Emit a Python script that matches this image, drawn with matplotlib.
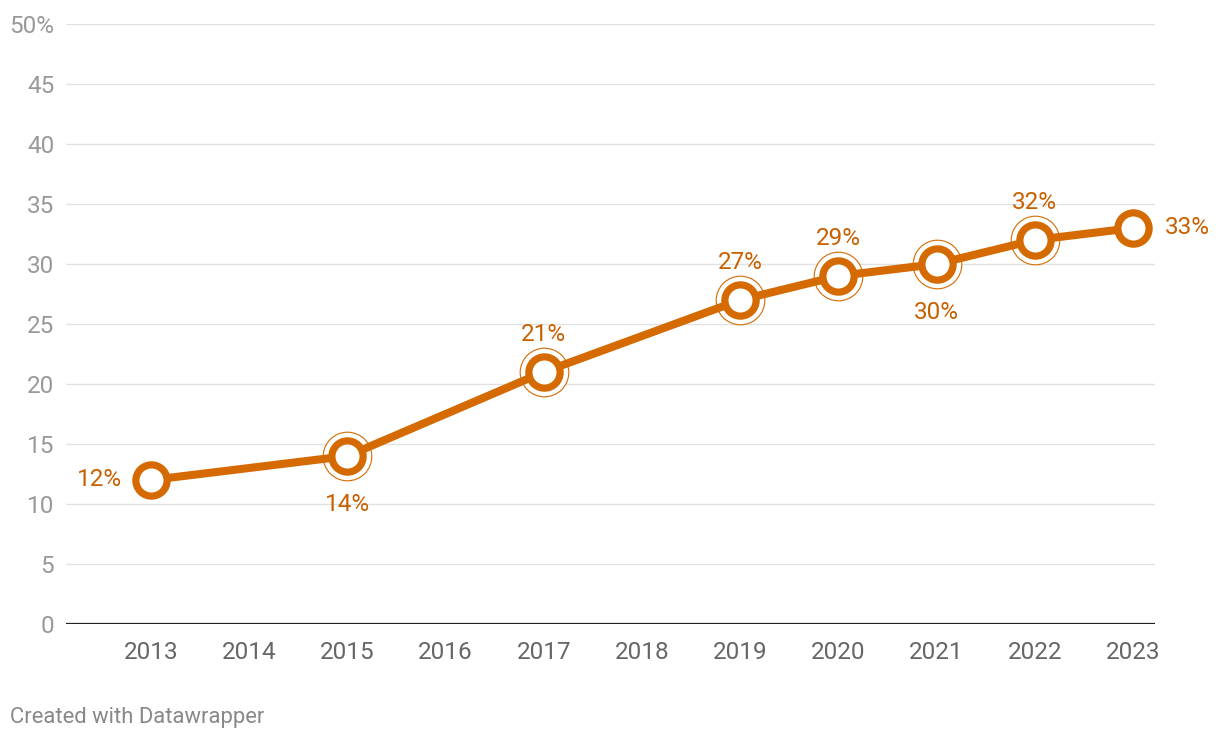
import matplotlib
matplotlib.use("Agg")
import matplotlib.pyplot as plt

years = [2013, 2015, 2017, 2019, 2020, 2021, 2022, 2023]
values = [12, 14, 21, 27, 29, 30, 32, 33]
label_pos = ["left", "below", "above", "above", "above", "below", "above", "right"]
ring_years = [2015, 2017, 2019, 2020, 2021, 2022]
xticks = list(range(2013, 2024))
yticks = [0, 5, 10, 15, 20, 25, 30, 35, 40, 45, 50]
ytick_labels = ["0", "5", "10", "15", "20", "25", "30", "35", "40", "45", "50%"]

ORANGE = "#d46a00"
LABEL = "#c86000"
FS = 17.5

plt.rcParams['font.family'] = ['Roboto', 'DejaVu Sans']

fig = plt.figure(figsize=(12.2, 7.4), dpi=100)
ax = fig.add_axes([66/1220, 1-624/740, (1155-66)/1220, 600/740])

ax.set_xlim(2012.134, 2023.224)
ax.set_ylim(0, 50)

for y in yticks[1:]:
    ax.axhline(y, color="#e2e2e2", lw=1.0, zorder=0)
ax.axhline(0, color="#222222", lw=1.6, zorder=1)

ax.plot(years, values, color=ORANGE, lw=5.8, zorder=3, solid_capstyle="round")
rv = [v for yr, v in zip(years, values) if yr in ring_years]
ax.plot(ring_years, rv, ls="none", marker="o", ms=35, mfc="white", mec=ORANGE, mew=0.8, zorder=2)
ax.plot(years, values, ls="none", marker="o", ms=22.5, mfc="white", mec=ORANGE, mew=5.2, zorder=4)

for yr, v, p in zip(years, values, label_pos):
    t = f"{v}%"
    if p == "above":
        ax.annotate(t, (yr, v), xytext=(0, 27), textcoords="offset points", ha="center", va="center", color=LABEL, fontsize=FS)
    elif p == "below":
        ax.annotate(t, (yr, v), xytext=(0, -35), textcoords="offset points", ha="center", va="center", color=LABEL, fontsize=FS)
    elif p == "left":
        ax.annotate(t, (yr, v), xytext=(-21, 0), textcoords="offset points", ha="right", va="center", color=LABEL, fontsize=FS)
    else:
        ax.annotate(t, (yr, v), xytext=(23, 0), textcoords="offset points", ha="left", va="center", color=LABEL, fontsize=FS)

ax.set_xticks(xticks)
ax.set_xticklabels([str(x) for x in xticks], color="#666666", fontsize=FS)
ax.set_yticks(yticks)
ax.set_yticklabels(ytick_labels, color="#999999", fontsize=FS)
ax.tick_params(axis="both", length=0)
ax.tick_params(axis="x", pad=12.5)
ax.tick_params(axis="y", pad=8.5)
for s in ax.spines.values():
    s.set_visible(False)

fig.text(10/1220, 1-718/740, "Created with Datawrapper", color="#888888", fontsize=15.8, va="center", ha="left")

fig.savefig("out.png", dpi=100)
